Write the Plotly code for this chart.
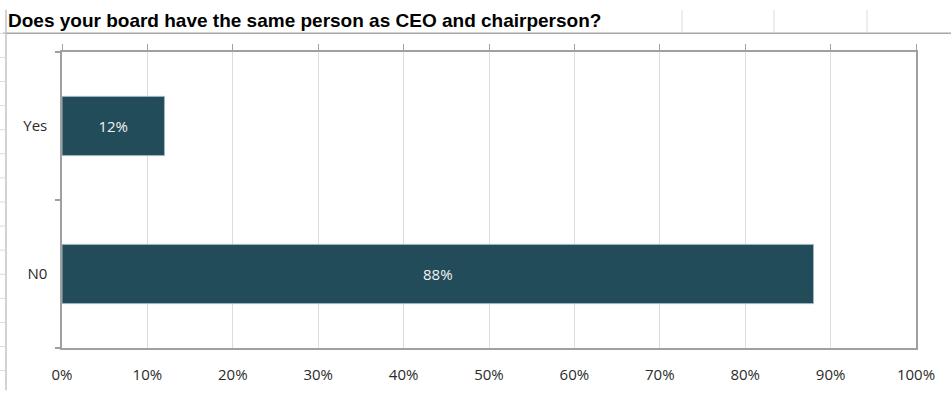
import plotly.graph_objects as go

# Survey answers and their shares
categories = ["N0", "Yes"]
shares = [0.88, 0.12]
x_tick_values = [0, 0.1, 0.2, 0.3, 0.4, 0.5, 0.6, 0.7, 0.8, 0.9, 1.0]
x_tick_labels = ["0%", "10%", "20%", "30%", "40%", "50%", "60%", "70%", "80%", "90%", "100%"]
title_text = "Does your board have the same person as CEO and chairperson?"

W, H = 951, 396
ML, MR, MT, MB = 62, 35, 52, 43
PW, PH = W - ML - MR, H - MT - MB
BAR = "#234C5A"
AXIS = "#A0A0A0"
GRID = "#DCDCDC"
TEXT = "#2B2B2B"
FONT = "Open Sans"


def px_x(x):
    return (x - ML) / PW


def px_y(y):
    return (H - MB - y) / PH


fig = go.Figure()

fig.add_trace(go.Bar(
    y=categories,
    x=shares,
    orientation="h",
    marker=dict(color=BAR, line=dict(color="#9DB8C4", width=1)),
    text=[f"{v:.0%}" for v in shares],
    textposition="inside",
    insidetextanchor="middle",
    textfont=dict(family=FONT, size=15, color="#F2F2F2"),
    hoverinfo="skip",
    width=0.4,
))

# invisible trace that carries the top tick axis
fig.add_trace(go.Scatter(x=[0, 1], y=["N0", "Yes"], xaxis="x2", mode="markers",
                         marker=dict(opacity=0), hoverinfo="skip", showlegend=False))

# sheet-style frame around the chart
shapes = [
    dict(type="line", xref="paper", yref="paper", x0=px_x(3), x1=px_x(W),
         y0=px_y(33), y1=px_y(33), line=dict(color="#A6A6A6", width=1.5)),
    dict(type="line", xref="paper", yref="paper", x0=px_x(6), x1=px_x(6),
         y0=px_y(H), y1=px_y(9), line=dict(color="#B4B4B4", width=1.2)),
]
for cx in (682, 774, 867):
    shapes.append(dict(type="line", xref="paper", yref="paper", x0=px_x(cx), x1=px_x(cx),
                       y0=px_y(32), y1=px_y(9), line=dict(color="#DCDCDC", width=1)))
ry = 33.0
while ry < H:
    shapes.append(dict(type="line", xref="paper", yref="paper", x0=px_x(0), x1=px_x(6),
                       y0=px_y(ry), y1=px_y(ry), line=dict(color="#DADADA", width=1)))
    ry += 24.5

fig.update_layout(
    width=W, height=H,
    margin=dict(l=ML, r=MR, t=MT, b=MB, pad=0),
    paper_bgcolor="white", plot_bgcolor="white",
    showlegend=False,
    bargap=0.6,
    shapes=shapes,
    title=dict(text=title_text, xref="container", yref="container", x=8 / W, xanchor="left",
               y=1 - 20 / H, yanchor="middle",
               font=dict(family="Liberation Sans", size=19, color="#000000", weight="bold")),
    xaxis=dict(range=[0, 1], tickvals=x_tick_values, ticktext=x_tick_labels,
               showgrid=True, gridcolor=GRID, gridwidth=1,
               showline=True, linecolor=AXIS, linewidth=1.5, ticks="",
               ticklabelstandoff=12, zeroline=False,
               tickfont=dict(family=FONT, size=15, color=TEXT), fixedrange=True),
    xaxis2=dict(range=[0, 1], overlaying="x", side="top", tickvals=x_tick_values,
                showticklabels=False, ticks="outside", ticklen=6, tickcolor=AXIS, tickwidth=1,
                showline=True, linecolor=AXIS, linewidth=1.5, showgrid=False, zeroline=False,
                fixedrange=True),
    yaxis=dict(type="category", categoryorder="array", categoryarray=categories,
               range=[-0.5, 1.5], tickson="boundaries", ticks="outside", ticklen=5,
               tickcolor=AXIS, tickwidth=1.5,
               showline=True, linecolor=AXIS, linewidth=1.5, mirror=True,
               showgrid=False, zeroline=False, ticklabelstandoff=10,
               tickfont=dict(family=FONT, size=15, color=TEXT), fixedrange=True),
)

fig.write_html("out.html")
